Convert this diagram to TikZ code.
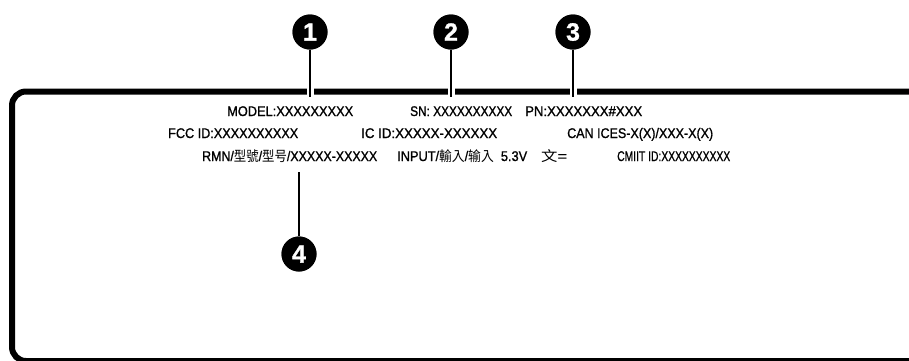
\documentclass[tikz,border=0pt]{standalone}
\usepackage{fontspec}
\setmainfont{Liberation Sans}[FakeBold=1.2]
\newfontfamily\cjk{Noto Sans CJK TC}
\usepackage{graphicx}
\usepackage{tikz}
\usetikzlibrary{positioning}

% squeeze a label text to the width it has on the sticker
\newcommand{\fitw}[2]{\resizebox{#1}{\height}{#2}}

\tikzset{
  lbl/.style={anchor=base west,inner sep=0pt,font=\fontsize{14}{14}\selectfont},
  callout/.style={circle,fill=black,text=white,minimum size=35pt,inner sep=0pt,
    font=\fontsize{25}{25}\selectfont\bfseries},
  leader/.style={line width=2.6pt,preaction={draw=white,line width=7pt}},
  frame/.style={line width=6pt,rounded corners=14pt}
}

\begin{document}
\begin{tikzpicture}[x=1pt,y=-1pt]
  \useasboundingbox (0,0) rectangle (909,360);
  \clip (0,0) rectangle (909,360);
  % label outline
  \draw[frame] (940,91.5) -- (12,91.5) -- (12,361) -- (940,361);
  % label texts
  \node[lbl] (model) at (227,116) {\fitw{126pt}{MODEL:XXXXXXXXX}};
  \node[lbl] (sn) at (410,116) {\fitw{102pt}{SN: XXXXXXXXXX}};
  \node[lbl] (pn) at (525,116) {\fitw{117pt}{PN:XXXXXXX\#XXX}};
  \node[lbl] (fcc) at (168,138) {\fitw{130pt}{FCC ID:XXXXXXXXXX}};
  \node[lbl] (ic) at (361,138) {\fitw{136pt}{IC ID:XXXXX-XXXXXX}};
  \node[lbl] (ices) at (567,138) {\fitw{146pt}{CAN ICES-X(X)/XXX-X(X)}};
  \node[lbl] (rmn) at (202,161) {\fitw{175pt}{RMN/{\cjk 型號}/{\cjk 型号}/XXXXX-XXXXX}};
  \node[lbl] (input) at (397,161) {\fitw{130pt}{INPUT/{\cjk 輸入}/{\cjk 输入}\ \ 5.3V}};
  \node[lbl] (dc) at (541,161) {\fitw{26pt}{{\cjk 文}=}};
  \node[lbl] (cmiit) at (617,161) {\fitw{113pt}{CMIIT ID:XXXXXXXXXX}};
  % callouts
  \node[callout] (c1) at (310,32) {1};
  \node[callout] (c2) at (451,32) {2};
  \node[callout] (c3) at (573,32) {3};
  \node[callout] (c4) at (299,254) {4};
  \coordinate (t1) at (310,97);
  \coordinate (t2) at (451,97);
  \coordinate (t3) at (573,97);
  \coordinate (t4) at (299,172);
  \draw[leader] (c1) -- (t1);
  \draw[leader] (c2) -- (t2);
  \draw[leader] (c3) -- (t3);
  \draw[leader] (t4) -- (c4);
  \node[callout] at (c1) {1};
  \node[callout] at (c2) {2};
  \node[callout] at (c3) {3};
  \node[callout] at (c4) {4};
\end{tikzpicture}
\end{document}
